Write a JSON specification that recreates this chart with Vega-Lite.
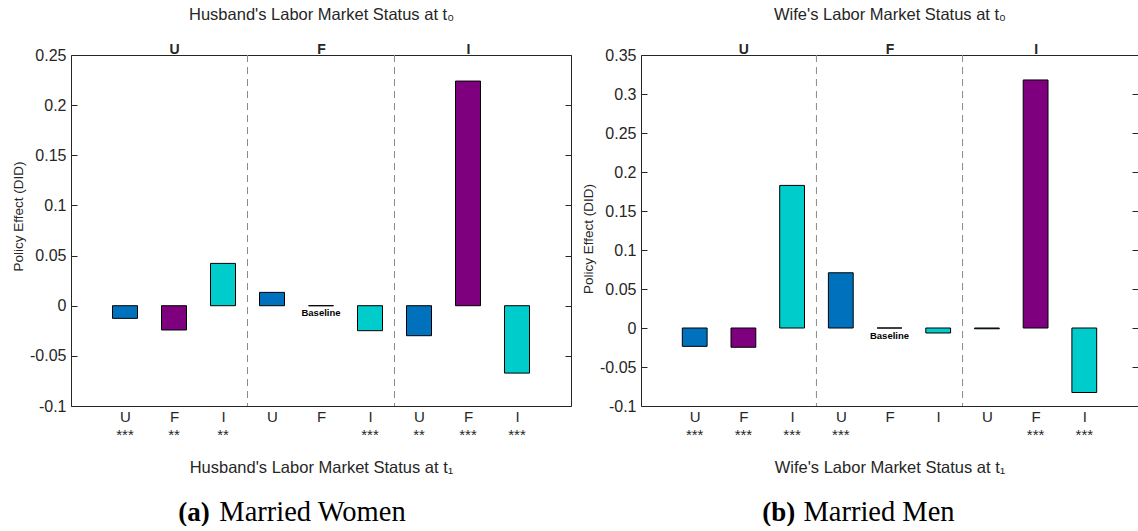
{
  "$schema": "https://vega.github.io/schema/vega-lite/v6.json",
  "background": "white",
  "padding": {"left": 11, "top": 6, "right": 0, "bottom": 0},
  "bounds": "flush",
  "spacing": 70,
  "datasets": {
    "women": [
      {"pos": 1, "t0": "U", "t1": "U", "value": -0.0126, "sig": "***"},
      {"pos": 2, "t0": "U", "t1": "F", "value": -0.0242, "sig": "**"},
      {"pos": 3, "t0": "U", "t1": "I", "value": 0.0422, "sig": "**"},
      {"pos": 4, "t0": "F", "t1": "U", "value": 0.0133, "sig": ""},
      {"pos": 5, "t0": "F", "t1": "F", "value": 0, "sig": ""},
      {"pos": 6, "t0": "F", "t1": "I", "value": -0.0249, "sig": "***"},
      {"pos": 7, "t0": "I", "t1": "U", "value": -0.0299, "sig": "**"},
      {"pos": 8, "t0": "I", "t1": "F", "value": 0.224, "sig": "***"},
      {"pos": 9, "t0": "I", "t1": "I", "value": -0.0672, "sig": "***"}
    ],
    "men": [
      {"pos": 1, "t0": "U", "t1": "U", "value": -0.0235, "sig": "***"},
      {"pos": 2, "t0": "U", "t1": "F", "value": -0.0247, "sig": "***"},
      {"pos": 3, "t0": "U", "t1": "I", "value": 0.1828, "sig": "***"},
      {"pos": 4, "t0": "F", "t1": "U", "value": 0.0708, "sig": "***"},
      {"pos": 5, "t0": "F", "t1": "F", "value": 0, "sig": ""},
      {"pos": 6, "t0": "F", "t1": "I", "value": -0.0064, "sig": ""},
      {"pos": 7, "t0": "I", "t1": "U", "value": -0.001, "sig": ""},
      {"pos": 8, "t0": "I", "t1": "F", "value": 0.318, "sig": "***"},
      {"pos": 9, "t0": "I", "t1": "I", "value": -0.0827, "sig": "***"}
    ],
    "groups": [{"sep": 3.5}, {"sep": 6.5}],
    "note": [{"pos": 5, "note": "Baseline"}]
  },
  "hconcat": [
    {
      "width": 500,
      "height": 351,
      "resolve": {"scale": {"x": "shared", "y": "shared"}, "axis": {"x": "independent", "y": "independent"}},
      "layer": [
        {
          "data": {"name": "women"},
          "mark": {"type": "bar", "width": 25, "stroke": "#000000", "strokeWidth": 1},
          "encoding": {
            "x": {"field": "pos", "type": "quantitative", "scale": {"domain": [0, 10], "nice": false, "zero": false},
              "axis": {"orient": "bottom", "values": [1, 2, 3, 4, 5, 6, 7, 8, 9],
                "labelExpr": "['', 'U', 'F', 'I', 'U', 'F', 'I', 'U', 'F', 'I'][datum.value]",
                "ticks": false, "domain": true, "labelPadding": 3, "labelFontSize": 15, "labelBaseline": "top", "labelFlush": false,
                "title": "Husband's Labor Market Status at t₁", "titleX": 250, "titleY": 66.3, "titleAlign": "center", "titleBaseline": "alphabetic", "titleFontSize": 16.5}},
            "y": {"field": "value", "type": "quantitative", "scale": {"domain": [-0.1, 0.25], "nice": false},
              "axis": {"orient": "left", "values": [-0.1, -0.05, 0, 0.05, 0.1, 0.15, 0.2, 0.25], "labelExpr": "'' + datum.value",
                "tickSize": -6, "labelPadding": 11, "labelFontSize": 16, "labelFlush": false,
                "title": "Policy Effect (DID)", "titleFontSize": 13.5, "titlePadding": 4, "titleY": 161, "titleAlign": "center"}},
            "color": {"field": "t1", "type": "nominal", "scale": {"domain": ["U", "F", "I"], "range": ["#0072BD", "#7E007E", "#00CCCC"]}, "legend": null}
          }
        },
        {
          "data": {"name": "groups"},
          "mark": {"type": "rule", "color": "#8a8a8a", "strokeWidth": 1, "strokeDash": [7, 5]},
          "encoding": {
            "x": {"field": "sep", "type": "quantitative",
              "axis": {"orient": "top", "values": [2, 5, 8], "labelExpr": "['', '', 'U', '', '', 'F', '', '', 'I'][datum.value]",
                "ticks": false, "domain": true, "labelPadding": 1.5, "labelBaseline": "alphabetic", "labelFontSize": 14, "labelFontWeight": "bold", "labelFlush": false,
                "title": "Husband's Labor Market Status at t₀", "titleX": 250, "titleY": -35.3, "titleAlign": "center", "titleBaseline": "alphabetic", "titleFontSize": 16.5}}
          }
        },
        {
          "mark": {"type": "rule", "color": "#262626", "strokeWidth": 1},
          "encoding": {
            "y": {"datum": 0, "axis": {"orient": "right", "values": [-0.1, -0.05, 0, 0.05, 0.1, 0.15, 0.2, 0.25], "labels": false, "tickSize": -6, "domain": true, "title": null}},
            "x": {"datum": 0, "axis": {"orient": "bottom", "labels": false, "ticks": false, "domain": false,
              "title": "Married Women", "titleX": 241, "titleY": 114.5, "titleAlign": "center", "titleBaseline": "alphabetic",
              "titleFont": "Liberation Serif", "titleFontSize": 28.5, "titleFontWeight": "normal", "titleColor": "#000000"}},
            "x2": {"datum": 10}
          }
        },
        {
          "data": {"name": "note"},
          "mark": {"type": "text", "fontSize": 9.5, "fontWeight": "bold", "baseline": "alphabetic", "dy": 10, "color": "#000000"},
          "encoding": {
            "x": {"field": "pos", "type": "quantitative", "axis": null},
            "y": {"datum": 0, "axis": null},
            "text": {"field": "note"}
          }
        },
        {
          "data": {"name": "women"},
          "mark": {"type": "text", "fontSize": 15, "baseline": "alphabetic", "dy": 34, "color": "#262626"},
          "encoding": {
            "x": {"field": "pos", "type": "quantitative",
              "axis": {"orient": "bottom", "labels": false, "ticks": false, "domain": false,
                "title": "(a)", "titleX": 122.5, "titleY": 114.5, "titleAlign": "center", "titleBaseline": "alphabetic",
                "titleFont": "Liberation Serif", "titleFontSize": 27, "titleFontWeight": "bold", "titleColor": "#000000"}},
            "y": {"datum": -0.1, "axis": null},
            "text": {"field": "sig"}
          }
        }
      ]
    },
    {
      "width": 497,
      "height": 351,
      "resolve": {"scale": {"x": "shared", "y": "shared"}, "axis": {"x": "independent", "y": "independent"}},
      "layer": [
        {
          "data": {"name": "men"},
          "mark": {"type": "bar", "width": 24.8, "stroke": "#000000", "strokeWidth": 1},
          "encoding": {
            "x": {"field": "pos", "type": "quantitative", "scale": {"domain": [0, 10], "nice": false, "zero": false},
              "axis": {"orient": "bottom", "values": [1, 2, 3, 4, 5, 6, 7, 8, 9],
                "labelExpr": "['', 'U', 'F', 'I', 'U', 'F', 'I', 'U', 'F', 'I'][datum.value]",
                "ticks": false, "domain": true, "labelPadding": 3, "labelFontSize": 15, "labelBaseline": "top", "labelFlush": false,
                "title": "Wife's Labor Market Status at t₁", "titleX": 248.5, "titleY": 66.3, "titleAlign": "center", "titleBaseline": "alphabetic", "titleFontSize": 16.5}},
            "y": {"field": "value", "type": "quantitative", "scale": {"domain": [-0.1, 0.35], "nice": false},
              "axis": {"orient": "left", "values": [-0.1, -0.05, 0, 0.05, 0.1, 0.15, 0.2, 0.25, 0.3, 0.35], "labelExpr": "'' + datum.value",
                "tickSize": -6, "labelPadding": 11, "labelFontSize": 16, "labelFlush": false,
                "title": "Policy Effect (DID)", "titleFontSize": 13.5, "titlePadding": 4, "titleY": 183.5, "titleAlign": "center"}},
            "color": {"field": "t1", "type": "nominal", "scale": {"domain": ["U", "F", "I"], "range": ["#0072BD", "#7E007E", "#00CCCC"]}, "legend": null}
          }
        },
        {
          "data": {"name": "groups"},
          "mark": {"type": "rule", "color": "#8a8a8a", "strokeWidth": 1, "strokeDash": [7, 5]},
          "encoding": {
            "x": {"field": "sep", "type": "quantitative",
              "axis": {"orient": "top", "values": [2, 5, 8], "labelExpr": "['', '', 'U', '', '', 'F', '', '', 'I'][datum.value]",
                "ticks": false, "domain": true, "labelPadding": 1.5, "labelBaseline": "alphabetic", "labelFontSize": 14, "labelFontWeight": "bold", "labelFlush": false,
                "title": "Wife's Labor Market Status at t₀", "titleX": 248.5, "titleY": -35.3, "titleAlign": "center", "titleBaseline": "alphabetic", "titleFontSize": 16.5}}
          }
        },
        {
          "mark": {"type": "rule", "color": "#262626", "strokeWidth": 1},
          "encoding": {
            "y": {"datum": 0, "axis": {"orient": "right", "values": [-0.1, -0.05, 0, 0.05, 0.1, 0.15, 0.2, 0.25, 0.3, 0.35], "labels": false, "tickSize": -6, "domain": true, "title": null}},
            "x": {"datum": 0, "axis": {"orient": "bottom", "labels": false, "ticks": false, "domain": false,
              "title": "Married Men", "titleX": 237.5, "titleY": 114.5, "titleAlign": "center", "titleBaseline": "alphabetic",
              "titleFont": "Liberation Serif", "titleFontSize": 28.5, "titleFontWeight": "normal", "titleColor": "#000000"}},
            "x2": {"datum": 10}
          }
        },
        {
          "data": {"name": "note"},
          "mark": {"type": "text", "fontSize": 9.5, "fontWeight": "bold", "baseline": "alphabetic", "dy": 10.5, "color": "#000000"},
          "encoding": {
            "x": {"field": "pos", "type": "quantitative", "axis": null},
            "y": {"datum": 0, "axis": null},
            "text": {"field": "note"}
          }
        },
        {
          "data": {"name": "men"},
          "mark": {"type": "text", "fontSize": 15, "baseline": "alphabetic", "dy": 34, "color": "#262626"},
          "encoding": {
            "x": {"field": "pos", "type": "quantitative",
              "axis": {"orient": "bottom", "labels": false, "ticks": false, "domain": false,
                "title": "(b)", "titleX": 137.2, "titleY": 114.5, "titleAlign": "center", "titleBaseline": "alphabetic",
                "titleFont": "Liberation Serif", "titleFontSize": 27, "titleFontWeight": "bold", "titleColor": "#000000"}},
            "y": {"datum": -0.1, "axis": null},
            "text": {"field": "sig"}
          }
        }
      ]
    }
  ],
  "config": {
    "view": {"stroke": null},
    "font": "Liberation Sans",
    "axis": {
      "grid": false,
      "labelFont": "Liberation Sans",
      "titleFont": "Liberation Sans",
      "labelColor": "#262626",
      "titleColor": "#262626",
      "domainColor": "#262626",
      "tickColor": "#262626",
      "domainWidth": 1,
      "tickWidth": 1,
      "titleFontWeight": "normal"
    }
  }
}
